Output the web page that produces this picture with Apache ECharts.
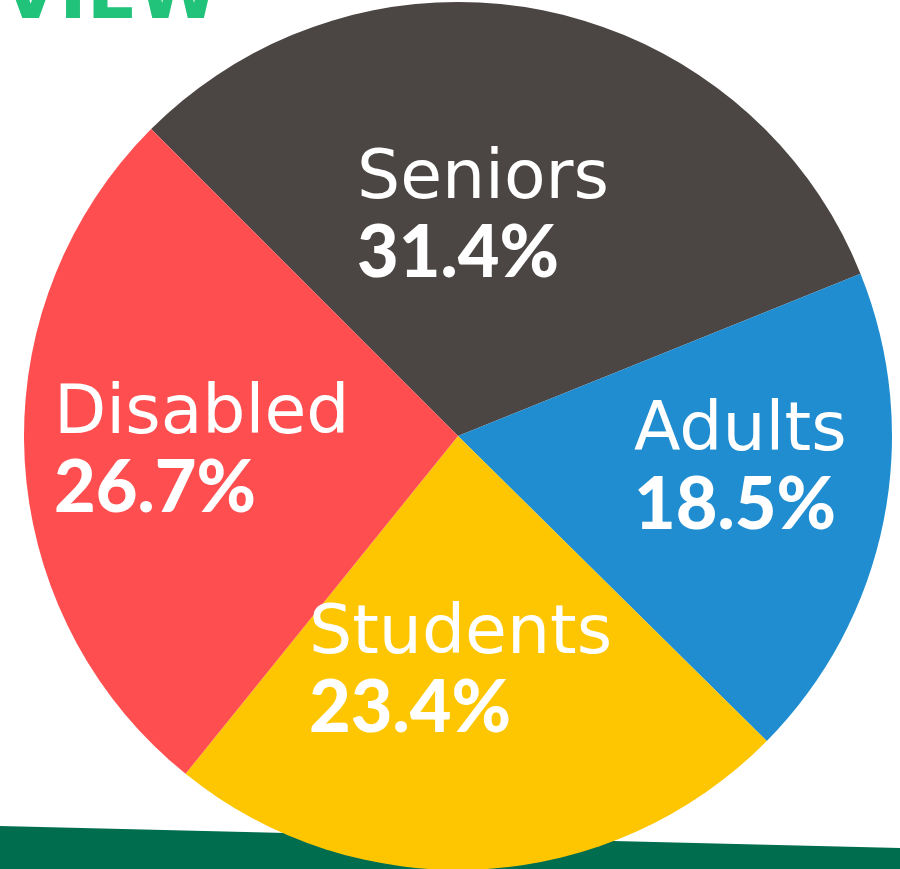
<!DOCTYPE html>
<html>
<head>
<meta charset="utf-8">
<script src="https://cdn.jsdelivr.net/npm/echarts@6/dist/echarts.min.js"></script>
<style>
html,body{margin:0;padding:0;background:#ffffff;}
#chart{width:900px;height:869px;}
</style>
</head>
<body>
<div id="chart"></div>
<script>
// Data (as printed on the chart)
const categories = ['Seniors', 'Adults', 'Students', 'Disabled'];
const shares = [31.4, 18.5, 23.4, 26.7];

// Styling / layout (not data)
const sliceColors = ['#4b4543', '#1f8dcf', '#fec601', '#fe4e50'];
const labelAnchors = {
  Seniors: [357, 143],
  Adults: [634, 395],
  Students: [309, 598],
  Disabled: [54, 378]
};

const chart = echarts.init(document.getElementById('chart'), null, {renderer: 'canvas'});

const option = {
  backgroundColor: '#ffffff',
  animation: false,
  graphic: [
    {
      type: 'polygon',
      z: 0,
      shape: {points: [[0, 826], [900, 848], [900, 869], [0, 869]]},
      style: {fill: '#006d4e'}
    },
    {
      type: 'text',
      z: 0,
      left: 2,
      top: -38,
      style: {
        text: 'VIEW',
        fontFamily: 'DejaVu Sans',
        fontWeight: 'bold',
        fontSize: 74,
        fill: '#21c27a'
      }
    }
  ],
  series: [{
    type: 'pie',
    z: 5,
    center: [458, 436],
    radius: [0, 434],
    startAngle: 135,
    clockwise: true,
    silent: true,
    itemStyle: {borderWidth: 0},
    data: categories.map((c, i) => ({
      name: c,
      value: shares[i],
      itemStyle: {color: sliceColors[i]}
    })),
    label: {
      show: true,
      position: 'inside',
      formatter: p => '{n|' + p.name + '}\n{v|' + p.value.toFixed(1) + '%}',
      rich: {
        n: {fontFamily: 'DejaVu Sans', fontSize: 68, fontWeight: 'normal', color: '#ffffff', lineHeight: 74, align: 'left'},
        v: {fontFamily: 'Lato', fontSize: 72, fontWeight: 900, color: '#ffffff', lineHeight: 74, align: 'left'}
      }
    },
    labelLine: {show: false},
    labelLayout: params => {
      const name = categories[params.dataIndex];
      const a = labelAnchors[name];
      return {x: a[0], y: a[1], align: 'left', verticalAlign: 'top'};
    }
  }]
};
chart.setOption(option);
</script>
</body>
</html>
